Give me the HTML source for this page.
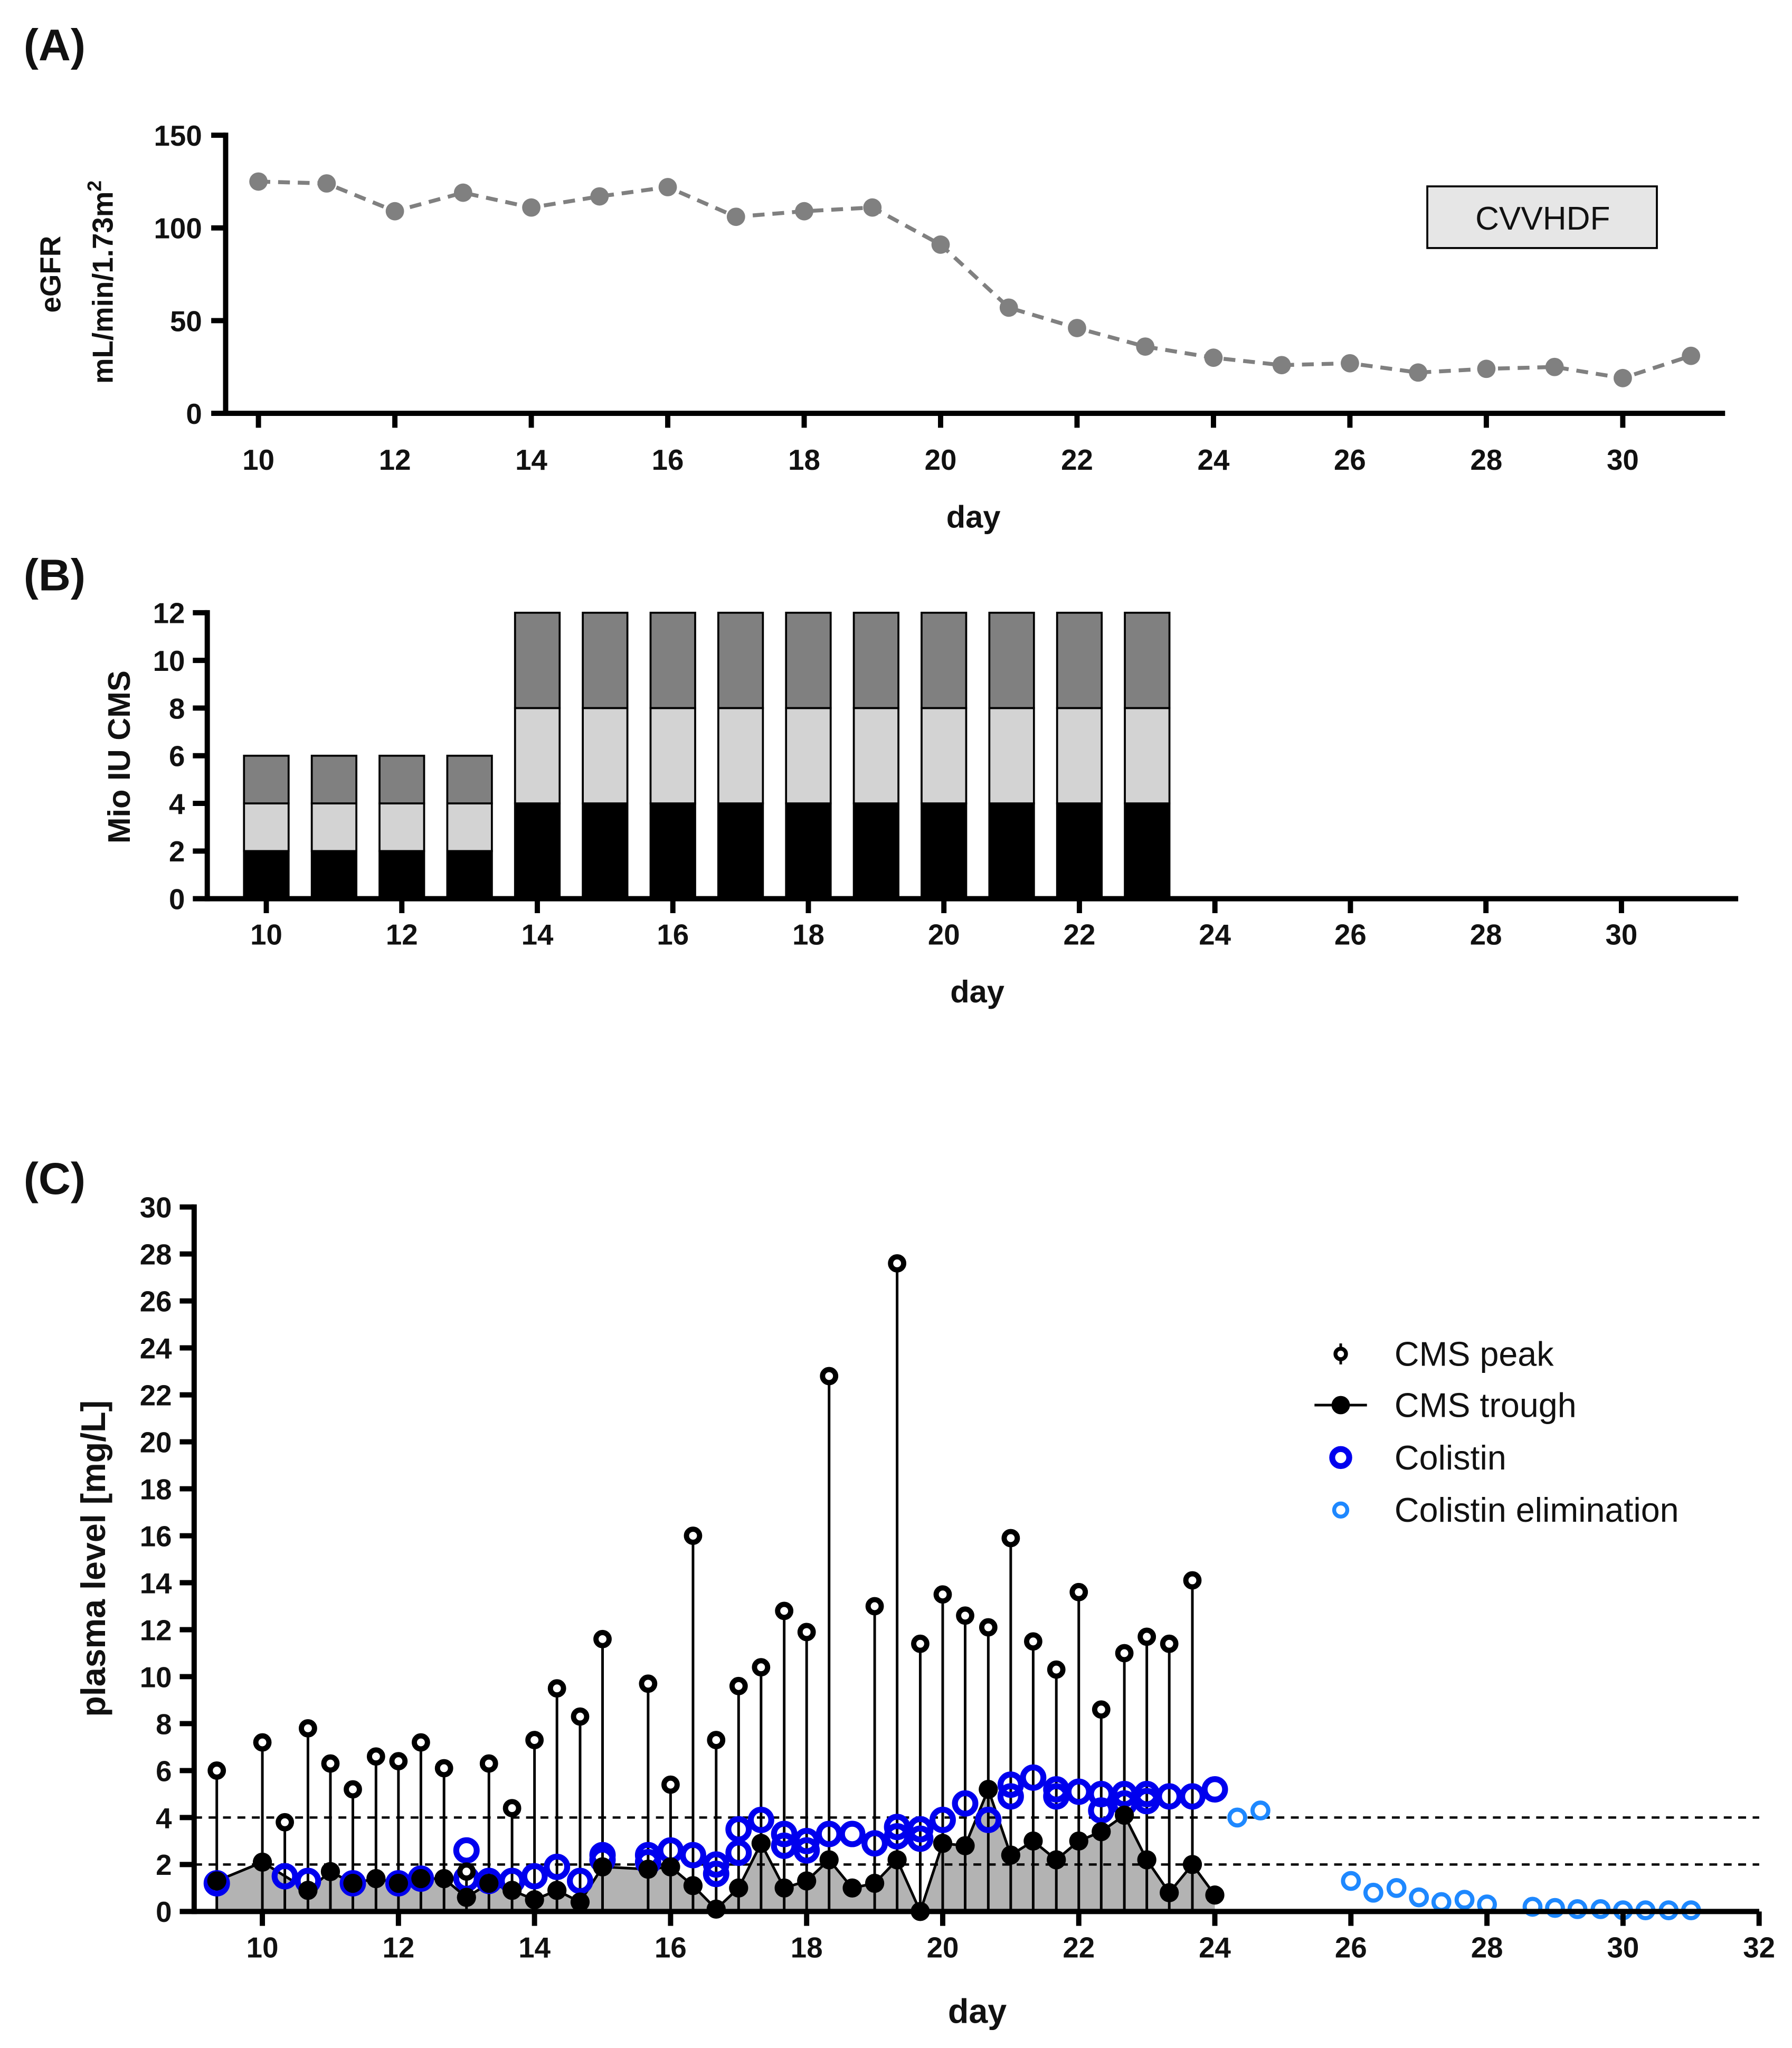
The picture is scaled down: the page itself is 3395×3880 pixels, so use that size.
<!DOCTYPE html>
<html><head><meta charset="utf-8"><style>
html,body{margin:0;padding:0;background:#fff}
svg{display:block}
text{font-family:"Liberation Sans",Arial,sans-serif;font-weight:bold;fill:#111}
text.n{font-weight:normal}
</style></head><body>
<svg id="fig" width="3395" height="3880" viewBox="0 0 1366 1561" xmlns="http://www.w3.org/2000/svg">
<text x="18" y="46" font-size="34">(A)</text>
<text x="18" y="450" font-size="34">(B)</text>
<text x="18" y="910" font-size="34">(C)</text>
<g id="A"></g>
<g id="B"></g>
<g id="C"></g>
</svg>
<script>
// Panel A data
const aDays=[10,11,12,13,14,15,16,17,18,19,20,21,22,23,24,25,26,27,28,29,30,31];
const aEgfr=[125,124,109,119,111,117,122,106,109,111,91,57,46,36,30,26,27,22,24,25,19,31];
const aXTicks=[10,12,14,16,18,20,22,24,26,28,30];
const aYTicks=[0,50,100,150];
// Panel B data
const bDays=[10,11,12,13,14,15,16,17,18,19,20,21,22,23];
const bDose1=[2,2,2,2,4,4,4,4,4,4,4,4,4,4];
const bDose2=[2,2,2,2,4,4,4,4,4,4,4,4,4,4];
const bDose3=[2,2,2,2,4,4,4,4,4,4,4,4,4,4];
const bXTicks=[10,12,14,16,18,20,22,24,26,28,30];
const bYTicks=[0,2,4,6,8,10,12];
// Panel C data
const peakDays=[9.33,10,10.33,10.67,11,11.33,11.67,12,12.33,12.67,13,13.33,13.67,14,14.33,14.67,15,15.67,16,16.33,16.67,17,17.33,17.67,18,18.33,19,19.33,19.67,20,20.33,20.67,21,21.33,21.67,22,22.33,22.67,23,23.33,23.67];
const peakVals=[6.0,7.2,3.8,7.8,6.3,5.2,6.6,6.4,7.2,6.1,1.7,6.3,4.4,7.3,9.5,8.3,11.6,9.7,5.4,16.0,7.3,9.6,10.4,12.8,11.9,22.8,13.0,27.6,11.4,13.5,12.6,12.1,15.9,11.5,10.3,13.6,8.6,11.0,11.7,11.4,14.1];
const troughDays=[9.33,10,10.67,11,11.33,11.67,12,12.33,12.67,13,13.33,13.67,14,14.33,14.67,15,15.67,16,16.33,16.67,17,17.33,17.67,18,18.33,18.67,19,19.33,19.67,20,20.33,20.67,21,21.33,21.67,22,22.33,22.67,23,23.33,23.67,24];
const troughVals=[1.3,2.1,0.9,1.7,1.2,1.4,1.2,1.4,1.4,0.6,1.2,0.9,0.5,0.9,0.4,1.9,1.8,1.9,1.1,0.1,1.0,2.9,1.0,1.3,2.2,1.0,1.2,2.2,0,2.9,2.8,5.2,2.4,3.0,2.2,3.0,3.4,4.1,2.2,0.8,2.0,0.7];
const colDays=[9.33,10.33,10.67,11.33,12,12.33,13,13,13.33,13.67,14,14.33,14.67,15,15,15.67,15.67,16,16.33,16.67,16.67,17,17,17.33,17.67,17.67,18,18,18.33,18.67,19,19.33,19.33,19.67,19.67,20,20.33,20.67,21,21,21.33,21.67,21.67,22,22.33,22.33,22.67,22.67,23,23,23.33,23.67,24];
const colVals=[1.2,1.5,1.3,1.2,1.2,1.4,2.6,1.4,1.3,1.3,1.5,1.9,1.3,2.4,2.2,2.4,2.1,2.6,2.4,2.0,1.6,3.5,2.5,3.9,3.3,2.8,3.0,2.6,3.3,3.3,2.9,3.6,3.2,3.5,3.1,3.9,4.6,3.9,5.4,4.9,5.7,5.2,4.9,5.1,5.0,4.3,5.0,4.6,5.0,4.7,4.9,4.9,5.2];
const elimDays=[24.33,24.67,26,26.33,26.67,27,27.33,27.67,28,28.67,29,29.33,29.67,30,30.33,30.67,31];
const elimVals=[4.0,4.3,1.3,0.8,1.0,0.6,0.4,0.5,0.3,0.2,0.15,0.1,0.1,0.05,0.05,0.05,0.05];
const cXTicks=[10,12,14,16,18,20,22,24,26,28,30,32];
const cYTicks=[0,2,4,6,8,10,12,14,16,18,20,22,24,26,28,30];

const NS="http://www.w3.org/2000/svg";
function mk(p,tag,at,txt){const e=document.createElementNS(NS,tag);for(const k in at)e.setAttribute(k,at[k]);if(txt!==undefined)e.textContent=txt;p.appendChild(e);return e;}

// ---------- A ----------
(function(){
const g=document.getElementById('A');
const xA=d=>197+(d-10)*52, yA=v=>315-v*212/150;
let e=mk(g,'line',{x1:172,y1:315,x2:1315,y2:315,stroke:'#000','stroke-width':4});

e=mk(g,'line',{x1:172,y1:101,x2:172,y2:317,stroke:'#000','stroke-width':4});

aXTicks.forEach(t=>{mk(g,'line',{x1:xA(t),y1:315,x2:xA(t),y2:326,stroke:'#000','stroke-width':4});
 e=mk(g,'text',{x:xA(t),y:358,'font-size':22,'text-anchor':'middle'},t);
 });
aYTicks.forEach(t=>{mk(g,'line',{x1:161,y1:yA(t),x2:172,y2:yA(t),stroke:'#000','stroke-width':4});
 e=mk(g,'text',{x:154,y:yA(t)+8,'font-size':22,'text-anchor':'end'},t);
 });
e=mk(g,'text',{x:742,y:402,'font-size':24,'text-anchor':'middle'},'day');

e=mk(g,'text',{transform:'translate(46,209) rotate(-90)','font-size':22,'text-anchor':'middle'},'eGFR');

e=mk(g,'text',{transform:'translate(86,215) rotate(-90)','font-size':22,'text-anchor':'middle'});
e.innerHTML='mL/min/1.73m<tspan dy="-9" font-size="15">2</tspan>';

e=mk(g,'polyline',{points:aDays.map((d,i)=>xA(d)+','+yA(aEgfr[i])).join(' '),fill:'none',stroke:'#808080','stroke-width':3,'stroke-dasharray':'9,6'});

aDays.forEach((d,i)=>{e=mk(g,'circle',{cx:xA(d),cy:yA(aEgfr[i]),r:7,fill:'#808080'});
 });
e=mk(g,'rect',{x:1088,y:142,width:175,height:47,fill:'#e6e6e6',stroke:'#000','stroke-width':1.5});

e=mk(g,'text',{x:1176,y:175,'font-size':25,'text-anchor':'middle','class':'n'},'CVVHDF');

})();

// ---------- B ----------
(function(){
const g=document.getElementById('B');
const xB=d=>203+(d-10)*51.65, yB=v=>685-v*218/12;
let e;
bDays.forEach((d,i)=>{
 const segs=[[0,bDose1[i],'#000'],[bDose1[i],bDose1[i]+bDose2[i],'#d3d3d3'],[bDose1[i]+bDose2[i],bDose1[i]+bDose2[i]+bDose3[i],'#808080']];
 segs.forEach((s,j)=>{e=mk(g,'rect',{x:xB(d)-17,y:yB(s[1]),width:34,height:yB(s[0])-yB(s[1]),fill:s[2],stroke:'#000','stroke-width':1.5});
  });
});
e=mk(g,'line',{x1:158,y1:685,x2:1325,y2:685,stroke:'#000','stroke-width':4});

e=mk(g,'line',{x1:158,y1:465,x2:158,y2:687,stroke:'#000','stroke-width':4});

bXTicks.forEach(t=>{mk(g,'line',{x1:xB(t),y1:685,x2:xB(t),y2:696,stroke:'#000','stroke-width':4});
 e=mk(g,'text',{x:xB(t),y:720,'font-size':22,'text-anchor':'middle'},t);
 });
bYTicks.forEach(t=>{mk(g,'line',{x1:147,y1:yB(t),x2:158,y2:yB(t),stroke:'#000','stroke-width':4});
 e=mk(g,'text',{x:141,y:yB(t)+8,'font-size':22,'text-anchor':'end'},t);
 });
e=mk(g,'text',{x:745,y:764,'font-size':24,'text-anchor':'middle'},'day');

e=mk(g,'text',{transform:'translate(99,577) rotate(-90)','font-size':24,'text-anchor':'middle'},'Mio IU CMS');

})();

// ---------- C ----------
(function(){
const g=document.getElementById('C');
const xC=d=>200+(d-10)*51.86, yC=v=>1457-v*537/30;
let e;
let pts=xC(troughDays[0])+','+yC(0)+' '+troughDays.map((d,i)=>xC(d)+','+yC(troughVals[i])).join(' ')+' '+xC(troughDays[troughDays.length-1])+','+yC(0);
e=mk(g,'polygon',{points:pts,fill:'#b3b3b3'});

[2,4].forEach(v=>{e=mk(g,'line',{x1:148,y1:yC(v),x2:1341,y2:yC(v),stroke:'#000','stroke-width':1.8,'stroke-dasharray':'6,5'});
 });
peakDays.forEach((d,i)=>{e=mk(g,'line',{x1:xC(d),y1:yC(peakVals[i]),x2:xC(d),y2:yC(0),stroke:'#000','stroke-width':2});
 });
e=mk(g,'polyline',{points:troughDays.map((d,i)=>xC(d)+','+yC(troughVals[i])).join(' '),fill:'none',stroke:'#000','stroke-width':2});

colDays.forEach((d,i)=>{e=mk(g,'circle',{cx:xC(d),cy:yC(colVals[i]),r:7.8,fill:'none',stroke:'#0000ee','stroke-width':4.5});
 });
troughDays.forEach((d,i)=>{e=mk(g,'circle',{cx:xC(d),cy:yC(troughVals[i]),r:7.3,fill:'#000'});
 });
peakDays.forEach((d,i)=>{e=mk(g,'circle',{cx:xC(d),cy:yC(peakVals[i]),r:5,fill:'#fff',stroke:'#000','stroke-width':4});
 });
elimDays.forEach((d,i)=>{e=mk(g,'circle',{cx:xC(d),cy:yC(elimVals[i]),r:6,fill:'#fff',stroke:'#1e88ff','stroke-width':3.2});
 });
e=mk(g,'line',{x1:148,y1:1457,x2:1341,y2:1457,stroke:'#000','stroke-width':4});

e=mk(g,'line',{x1:148,y1:918,x2:148,y2:1459,stroke:'#000','stroke-width':4});

cXTicks.forEach(t=>{mk(g,'line',{x1:xC(t),y1:1457,x2:xC(t),y2:1468,stroke:'#000','stroke-width':4});
 e=mk(g,'text',{x:xC(t),y:1492,'font-size':22,'text-anchor':'middle'},t);
 });
cYTicks.forEach(t=>{mk(g,'line',{x1:137,y1:yC(t),x2:148,y2:yC(t),stroke:'#000','stroke-width':4});
 e=mk(g,'text',{x:131,y:yC(t)+8,'font-size':22,'text-anchor':'end'},t);
 });
e=mk(g,'text',{x:745,y:1542,'font-size':26,'text-anchor':'middle'},'day');

e=mk(g,'text',{transform:'translate(80,1188) rotate(-90)','font-size':26,'text-anchor':'middle'},'plasma level [mg/L]');

const lx=1022, ly=[1032,1071,1111,1151], labels=['CMS peak','CMS trough','Colistin','Colistin elimination'];
const leg=mk(g,'g',{});

mk(leg,'line',{x1:lx,y1:ly[0]-8,x2:lx,y2:ly[0]+8,stroke:'#000','stroke-width':2});
mk(leg,'circle',{cx:lx,cy:ly[0],r:4,fill:'#fff',stroke:'#000','stroke-width':3});
mk(leg,'line',{x1:lx-20,y1:ly[1],x2:lx+20,y2:ly[1],stroke:'#000','stroke-width':2});
mk(leg,'circle',{cx:lx,cy:ly[1],r:7,fill:'#000'});
mk(leg,'circle',{cx:lx,cy:ly[2],r:6.5,fill:'none',stroke:'#0000ee','stroke-width':4.5});
mk(leg,'circle',{cx:lx,cy:ly[3],r:5,fill:'#fff',stroke:'#1e88ff','stroke-width':3});
labels.forEach((l,i)=>{e=mk(leg,'text',{x:1063,y:ly[i]+9,'font-size':26,'class':'n'},l);
 });
})();
</script>
</body></html>
